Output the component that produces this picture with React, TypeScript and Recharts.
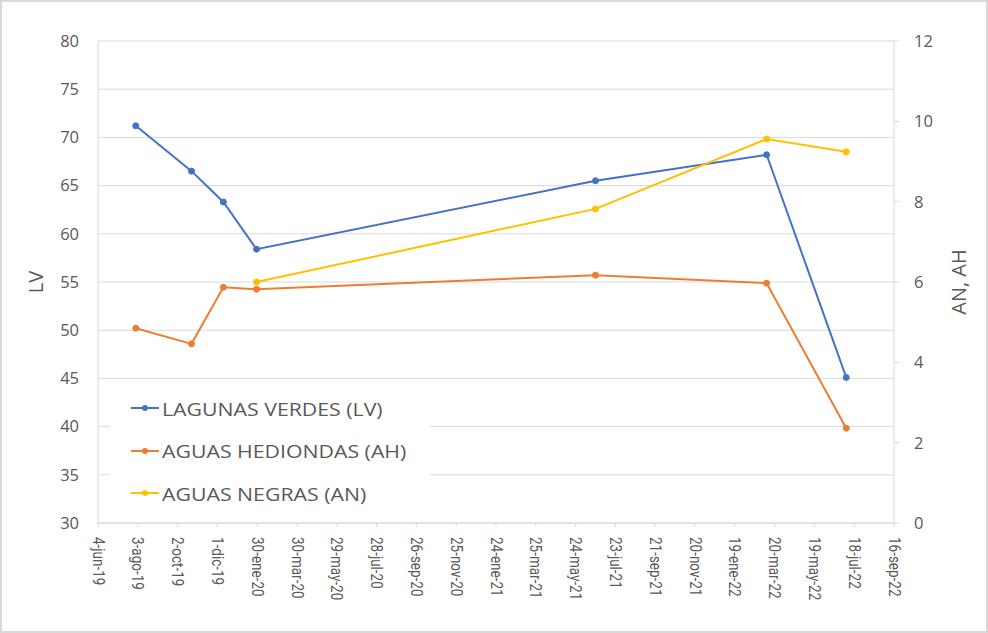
import React from "react";
import { CartesianGrid, Legend, Line, LineChart, XAxis, YAxis } from "recharts";

const sampleDates = [
  "2019-07-31",
  "2019-10-23",
  "2019-12-10",
  "2020-01-29",
  "2021-06-23",
  "2022-03-08",
  "2022-07-06"
];
const lagunasVerdes = [71.2, 66.5, 63.3, 58.4, 65.5, 68.2, 45.1];
const aguasHediondas = [4.85, 4.46, 5.87, 5.82, 6.17, 5.97, 2.36];
const aguasNegras = [null, null, null, 6.0, 7.82, 9.56, 9.24];

const tickDates = [
  "2019-06-04", "2019-08-03", "2019-10-02", "2019-12-01", "2020-01-30",
  "2020-03-30", "2020-05-29", "2020-07-28", "2020-09-26", "2020-11-25",
  "2021-01-24", "2021-03-25", "2021-05-24", "2021-07-23", "2021-09-21",
  "2021-11-20", "2022-01-19", "2022-03-20", "2022-05-19", "2022-07-18",
  "2022-09-16"
];
const lvTicks = [30, 35, 40, 45, 50, 55, 60, 65, 70, 75, 80];
const anTicks = [0, 2, 4, 6, 8, 10, 12];

const mesesCortos = ["ene", "feb", "mar", "abr", "may", "jun", "jul", "ago", "sep", "oct", "nov", "dic"];

const toTime = (s: string) => Date.parse(s + "T00:00:00Z");

const fechaCorta = (t: number) => {
  const d = new Date(t);
  const yy = String(d.getUTCFullYear()).slice(2);
  return `${d.getUTCDate()}-${mesesCortos[d.getUTCMonth()]}-${yy}`;
};

const data = sampleDates.map((s, i) => ({
  fecha: toTime(s),
  lv: lagunasVerdes[i],
  ah: aguasHediondas[i],
  an: aguasNegras[i]
}));

const series = [
  { key: "lv", name: "LAGUNAS VERDES (LV)", color: "#4472C4", axis: "left" },
  { key: "ah", name: "AGUAS HEDIONDAS (AH)", color: "#ED7D31", axis: "right" },
  { key: "an", name: "AGUAS NEGRAS (AN)", color: "#FFC000", axis: "right" }
];

const fuente = "'Open Sans', 'Noto Sans', sans-serif";
const gris = "#595959";

// the source picture is a bit stretched sideways, so the rotated dates get a small widen
function DateTick({ x, y, payload }: any) {
  return (
    <text
      transform={`translate(${x}, ${y + 8}) rotate(90) scale(1, 1.2)`}
      textAnchor="start"
      dominantBaseline="central"
      fill={gris}
      fontSize={13.5}
      fontFamily="Roboto, sans-serif"
    >
      {fechaCorta(payload.value)}
    </text>
  );
}

function LegendBox() {
  return (
    <div style={{ background: "#fff", padding: "6px 0 6px 21px" }}>
      {series.map((s) => (
        <div
          key={s.key}
          style={{ display: "flex", alignItems: "center", height: 42.5, fontFamily: fuente, fontSize: 18.5, color: gris }}
        >
          <svg width={28} height={10} style={{ marginRight: 3 }}>
            <line x1={0} y1={5} x2={28} y2={5} stroke={s.color} strokeWidth={2} />
            <circle cx={14} cy={5} r={3} fill={s.color} />
          </svg>
          <span style={{ display: "inline-block", transform: "scaleX(1.15)", transformOrigin: "left center", whiteSpace: "nowrap" }}>
            {s.name}
          </span>
        </div>
      ))}
    </div>
  );
}

export default function App() {
  return (
    <div style={{ position: "absolute", left: 0, top: 0, width: 988, height: 633 }}>
      <LineChart width={988} height={633} data={data} margin={{ top: 41, right: 0, bottom: 0, left: 0 }}>
        <CartesianGrid yAxisId="left" vertical={false} stroke="#d9d9d9" />
        <XAxis
          dataKey="fecha"
          type="number"
          scale="time"
          domain={[toTime(tickDates[0]), toTime(tickDates[tickDates.length - 1])]}
          ticks={tickDates.map(toTime)}
          tick={<DateTick />}
          height={110}
          axisLine={{ stroke: "#d9d9d9" }}
          tickLine={{ stroke: "#d9d9d9" }}
          tickSize={4}
          interval={0}
        />
        <YAxis
          yAxisId="left"
          orientation="left"
          width={98}
          domain={[30, 80]}
          ticks={lvTicks}
          tickSize={0}
          tickMargin={19}
          axisLine={{ stroke: "#d9d9d9" }}
          tick={{ fill: gris, fontSize: 16.5, fontFamily: fuente }}
          label={{ value: "LV", angle: -90, position: "center", dx: -13, fill: gris, fontSize: 20, fontFamily: fuente }}
        />
        <YAxis
          yAxisId="right"
          orientation="right"
          width={94}
          domain={[0, 12]}
          ticks={anTicks}
          tickSize={5}
          tickMargin={15}
          axisLine={{ stroke: "#d9d9d9" }}
          tickLine={{ stroke: "#d9d9d9" }}
          tick={{ fill: gris, fontSize: 16.5, fontFamily: fuente, textAnchor: "start" }}
          label={{ value: "AN, AH", angle: -90, position: "center", dx: 18, fill: gris, fontSize: 20, fontFamily: fuente }}
        />
        <Legend
          layout="vertical"
          align="center"
          verticalAlign="middle"
          content={<LegendBox />}
          wrapperStyle={{ left: 110, top: 381, width: 320 }}
        />
        {series.map((s) => (
          <Line
            key={s.key}
            yAxisId={s.axis}
            dataKey={s.key}
            name={s.name}
            type="linear"
            stroke={s.color}
            strokeWidth={2}
            dot={{ r: 3, fill: s.color, stroke: s.color, strokeWidth: 1 }}
            activeDot={false}
            isAnimationActive={false}
          />
        ))}
      </LineChart>
      <div
        style={{
          position: "absolute",
          left: 0,
          top: 0,
          width: 988,
          height: 633,
          boxSizing: "border-box",
          border: "2px solid #d9d9d9",
          pointerEvents: "none"
        }}
      />
    </div>
  );
}
